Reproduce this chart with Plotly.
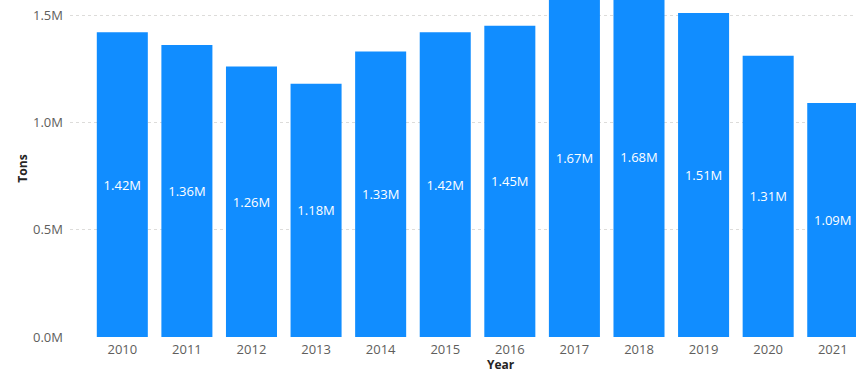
import plotly.graph_objects as go

years = ["2010", "2011", "2012", "2013", "2014", "2015", "2016", "2017", "2018", "2019", "2020", "2021"]
tons = [1.42e6, 1.36e6, 1.26e6, 1.18e6, 1.33e6, 1.42e6, 1.45e6, 1.67e6, 1.68e6, 1.51e6, 1.31e6, 1.09e6]
y_tickvals = [0, 0.5e6, 1.0e6, 1.5e6]
y_ticktext = ["0.0M", "0.5M", "1.0M", "1.5M"]

labels = [f"{v/1e6:.2f}M" for v in tons]
FONT = "Segoe UI, Open Sans, sans-serif"

fig = go.Figure(go.Bar(
    x=years, y=tons, text=labels,
    textposition="inside", insidetextanchor="middle",
    textfont=dict(color="white", size=13, family=FONT),
    marker=dict(color="#118DFF", line=dict(width=0)),
    cliponaxis=True,
))

fig.update_layout(
    width=856, height=374,
    margin=dict(l=70, r=0, t=0, b=37, autoexpand=False),
    paper_bgcolor="white", plot_bgcolor="white",
    bargap=0.21, showlegend=False,
    uniformtext=dict(mode="show", minsize=13),
    annotations=[dict(
        text="<b>Year</b>", xref="paper", yref="paper", x=0.548, y=0,
        yshift=-37, xanchor="center", yanchor="bottom", showarrow=False,
        borderpad=0, font=dict(color="#252423", size=12, family=FONT),
    )],
)
fig.update_xaxes(
    type="category", range=[-0.81, 11.36],
    tickfont=dict(color="#605E5C", size=13, family=FONT),
    showgrid=False, showline=False, ticks="", ticklabelstandoff=3, automargin=False,
)
fig.update_yaxes(
    range=[0, 1.57e6], tickvals=y_tickvals, ticktext=y_ticktext,
    tickfont=dict(color="#605E5C", size=13, family=FONT),
    title=dict(text="<b>Tons</b>", font=dict(color="#252423", size=12, family=FONT), standoff=2),
    showgrid=True, gridcolor="#DDDCDA", griddash="dot", gridwidth=1,
    zeroline=False, showline=False, ticks="", ticklabelstandoff=6, automargin=False,
)

fig.write_html("out.html")
